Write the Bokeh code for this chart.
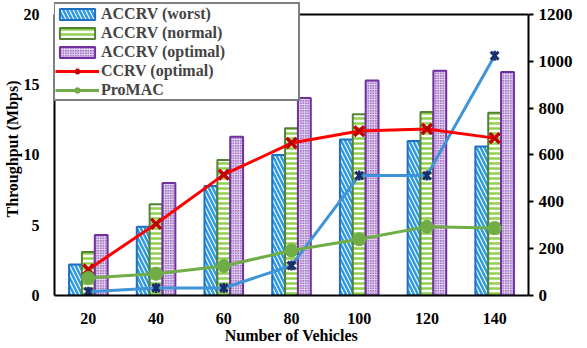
import math
from bokeh.plotting import figure
from bokeh.models import (ColumnDataSource, Range1d, LinearAxis, FixedTicker,
                          Legend, LegendItem, Label, Span)
from bokeh.transform import dodge
from bokeh.embed import file_html
from bokeh.resources import INLINE

vehicles = ["20", "40", "60", "80", "100", "120", "140"]
accrv_worst = [2.2, 4.9, 7.8, 10.0, 11.1, 11.0, 10.6]
accrv_normal = [3.1, 6.5, 9.65, 11.9, 12.9, 13.05, 13.0]
accrv_optimal = [4.3, 8.0, 11.3, 14.05, 15.3, 16.0, 15.9]
ccrv_optimal = [1.85, 5.1, 8.6, 10.85, 11.7, 11.85, 11.2]
promac = [1.25, 1.55, 2.1, 3.2, 4.0, 4.9, 4.8]
cw_size = [16, 32, 32, 128, 512, 512, 1024]

src = ColumnDataSource(dict(n=vehicles, worst=accrv_worst, normal=accrv_normal,
                            optimal=accrv_optimal, ccrv=ccrv_optimal,
                            promac=promac, cw=cw_size))

FONT = "Liberation Serif"

# frame spans 2..296 px; the axes' own range (0..20 / 0..1200) spans 14..296 px
FRAME_H = 294
EXTRA = FRAME_H / 282.0
p = figure(x_range=vehicles, y_range=Range1d(0, 20 * EXTRA), width=586, height=346,
           output_backend="svg", toolbar_location=None,
           min_border_left=53, min_border_right=58, min_border_top=2,
           min_border_bottom=50)
p.x_range.range_padding = 0
p.extra_y_ranges = {"cw": Range1d(0, 1200 * EXTRA)}
p.xgrid.visible = False
p.ygrid.visible = False
p.outline_line_color = None
p.background_fill_color = "white"

bw = 0.19
r_worst = p.vbar(x=dodge("n", -0.19, range=p.x_range), top="worst", width=bw, source=src,
                 fill_color="white", hatch_pattern="left_diagonal_line",
                 hatch_color="#2e9be0", hatch_weight=2.5, hatch_scale=8,
                 line_color="#1f70c0", line_width=2)
r_normal = p.vbar(x=dodge("n", 0.0, range=p.x_range), top="normal", width=bw, source=src,
                  fill_color="white", hatch_pattern="horizontal_line",
                  hatch_color="#92d050", hatch_weight=2.5, hatch_scale=5,
                  line_color="#548235", line_width=2)
r_opt = p.vbar(x=dodge("n", 0.19, range=p.x_range), top="optimal", width=bw, source=src,
               fill_color="#a57bc9", hatch_pattern="cross",
               hatch_color="#e6d6f0", hatch_weight=1, hatch_scale=2.5,
               line_color="#7030a0", line_width=2)

# CW size line (right axis)
p.line(x="n", y="cw", source=src, y_range_name="cw", line_color="#3e94d6", line_width=3)
p.scatter(x="n", y="cw", source=src, y_range_name="cw", marker="x", size=11,
          line_color="#1a2e6e", line_width=3)
p.scatter(x="n", y="cw", source=src, y_range_name="cw", marker="dash", angle=math.pi / 2,
          size=10, line_color="#1a2e6e", line_width=2.5)

r_ccrv_l = p.line(x="n", y="ccrv", source=src, line_color="#ff0000", line_width=3)
r_ccrv_m = p.scatter(x="n", y="ccrv", source=src, marker="x", size=14,
                     line_color="#c00000", line_width=3.5)
r_pro_l = p.line(x="n", y="promac", source=src, line_color="#70ad47", line_width=3)
r_pro_m = p.scatter(x="n", y="promac", source=src, marker="circle", size=13,
                    fill_color="#70ad47", line_color="#70ad47")

# top border of the plot area at the top of the axes
p.add_layout(Span(location=20, dimension="width", line_color="black", line_width=2))

# axes
ya = p.yaxis[0]
ya.ticker = FixedTicker(ticks=[0, 5, 10, 15, 20])
ya.bounds = (0, 20)
ya.axis_label = "Throughput (Mbps)"
ya.major_tick_out = 0
ya.major_tick_in = 0
ya.minor_tick_out = 0
ya.minor_tick_in = 0
ya.major_label_standoff = 15
ya.axis_label_standoff = 0

ra = LinearAxis(y_range_name="cw", ticker=FixedTicker(ticks=list(range(0, 1201, 200))),
                bounds=(0, 1200))
ra.major_tick_out = 5
ra.major_tick_in = 0
ra.minor_tick_out = 0
ra.minor_tick_in = 0
ra.major_label_standoff = 5
p.add_layout(ra, "right")

xa = p.xaxis[0]
xa.axis_label = "Number of Vehicles"
xa.major_tick_out = 0
xa.major_tick_in = 0
xa.major_label_standoff = 17
xa.axis_label_standoff = 0

for ax in [ya, ra, xa]:
    ax.axis_line_color = "black"
    ax.axis_line_width = 2
    ax.major_tick_line_color = "black"
    ax.major_tick_line_width = 2
    ax.major_label_text_font = FONT
    ax.major_label_text_font_style = "bold"
    ax.major_label_text_font_size = "16px"
    ax.major_label_text_color = "black"
    ax.axis_label_text_font = FONT
    ax.axis_label_text_font_style = "bold"
    ax.axis_label_text_font_size = "16px"
    ax.axis_label_text_color = "black"
ra.major_label_text_font_size = "17px"

# right axis title
cw_label = Label(x=7.0, y=10, x_offset=48, text="CW Size", angle=math.pi / 2,
                 text_font=FONT, text_font_style="bold", text_font_size="16px",
                 text_align="center", text_baseline="middle", text_color="black")
p.add_layout(cw_label)

legend = Legend(items=[
    LegendItem(label="ACCRV (worst)", renderers=[r_worst]),
    LegendItem(label="ACCRV (normal)", renderers=[r_normal]),
    LegendItem(label="ACCRV (optimal)", renderers=[r_opt]),
    LegendItem(label="CCRV (optimal)", renderers=[r_ccrv_l, r_ccrv_m]),
    LegendItem(label="ProMAC", renderers=[r_pro_l, r_pro_m]),
], location=(-1, 194))
legend.label_text_font = FONT
legend.label_text_font_style = "bold"
legend.label_text_font_size = "16px"
legend.label_height = 19
legend.glyph_height = 14
legend.glyph_width = 44
legend.label_width = 197
legend.label_standoff = 2
legend.spacing = 0
legend.padding = 0
legend.margin = 0
legend.border_line_color = "black"
legend.border_line_width = 2
legend.background_fill_alpha = 1.0
p.add_layout(legend)

open("out.html", "w").write(file_html(p, INLINE))
